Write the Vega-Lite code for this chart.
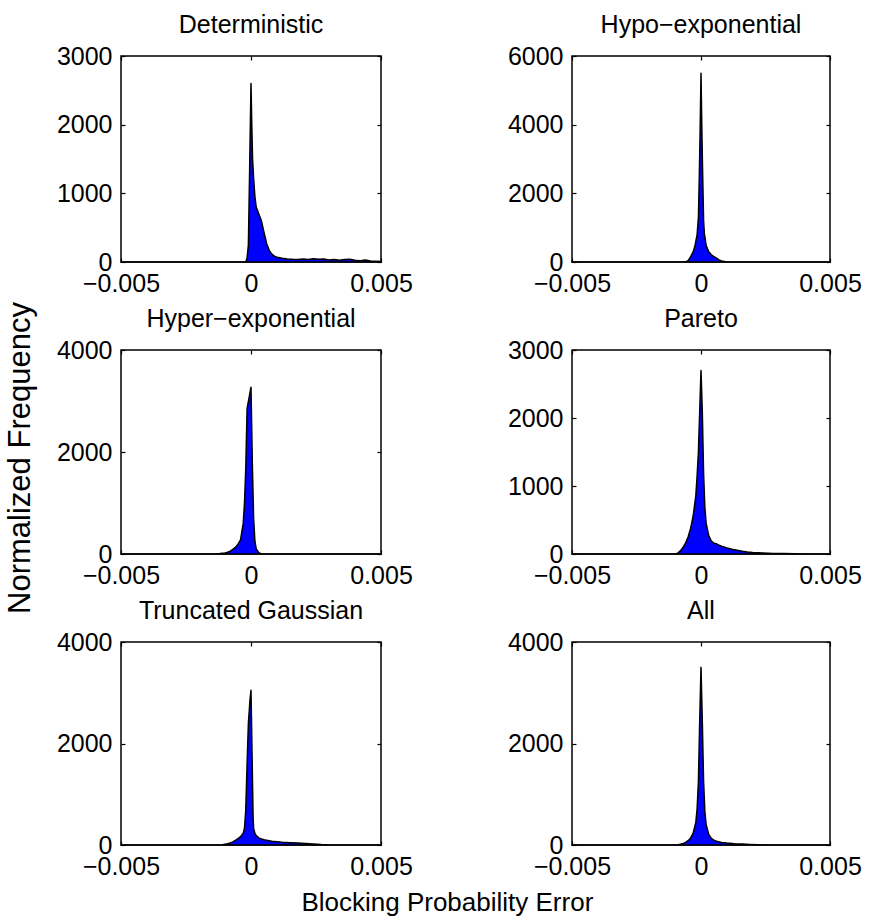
{
  "$schema": "https://vega.github.io/schema/vega-lite/v6.json",
  "background": "white",
  "padding": {"left": 4, "top": 12, "right": 8, "bottom": 6},
  "datasets": {
    "D": [
      {"x": -0.005, "y": 0}, {"x": -0.0002, "y": 0}, {"x": -0.00015, "y": 60}, {"x": -0.0001, "y": 250}, {"x": -0.00005, "y": 1400}, {"x": 0, "y": 2600},
      {"x": 0.00003, "y": 2000}, {"x": 0.00006, "y": 1500}, {"x": 0.0001, "y": 1220}, {"x": 0.00015, "y": 950}, {"x": 0.0002, "y": 800},
      {"x": 0.0003, "y": 700}, {"x": 0.0004, "y": 600}, {"x": 0.0005, "y": 430}, {"x": 0.0006, "y": 270}, {"x": 0.0007, "y": 170},
      {"x": 0.0008, "y": 115}, {"x": 0.0009, "y": 85}, {"x": 0.001, "y": 70}, {"x": 0.0012, "y": 55}, {"x": 0.0014, "y": 45},
      {"x": 0.0016, "y": 40}, {"x": 0.0018, "y": 38}, {"x": 0.002, "y": 42}, {"x": 0.0022, "y": 35}, {"x": 0.0024, "y": 48},
      {"x": 0.0026, "y": 40}, {"x": 0.0028, "y": 45}, {"x": 0.003, "y": 30}, {"x": 0.0032, "y": 38}, {"x": 0.0034, "y": 25},
      {"x": 0.0036, "y": 35}, {"x": 0.0038, "y": 40}, {"x": 0.004, "y": 25}, {"x": 0.0042, "y": 20}, {"x": 0.0044, "y": 28},
      {"x": 0.0046, "y": 15}, {"x": 0.0048, "y": 12}, {"x": 0.005, "y": 8}
    ],
    "H": [
      {"x": -0.005, "y": 0}, {"x": -0.0006, "y": 0}, {"x": -0.0005, "y": 40}, {"x": -0.0004, "y": 155}, {"x": -0.0003, "y": 300},
      {"x": -0.00024, "y": 450}, {"x": -0.00015, "y": 800}, {"x": -0.0001, "y": 1300}, {"x": -0.00006, "y": 2700}, {"x": -0.00003, "y": 4000},
      {"x": 0, "y": 5500}, {"x": 0.00003, "y": 4000}, {"x": 0.00006, "y": 2700}, {"x": 0.0001, "y": 1200}, {"x": 0.00013, "y": 830},
      {"x": 0.0002, "y": 480}, {"x": 0.0003, "y": 300}, {"x": 0.0004, "y": 210}, {"x": 0.0005, "y": 160}, {"x": 0.0006, "y": 110},
      {"x": 0.0007, "y": 60}, {"x": 0.0008, "y": 30}, {"x": 0.0009, "y": 15}, {"x": 0.001, "y": 0}, {"x": 0.005, "y": 0}
    ],
    "HE": [
      {"x": -0.005, "y": 0}, {"x": -0.0014, "y": 0}, {"x": -0.0012, "y": 8}, {"x": -0.001, "y": 20}, {"x": -0.0009, "y": 35},
      {"x": -0.0008, "y": 55}, {"x": -0.0007, "y": 90}, {"x": -0.0006, "y": 130}, {"x": -0.0005, "y": 190}, {"x": -0.0004, "y": 280},
      {"x": -0.0003, "y": 600}, {"x": -0.00025, "y": 1000}, {"x": -0.0002, "y": 1700}, {"x": -0.00015, "y": 2850}, {"x": 0, "y": 3270},
      {"x": 0.00005, "y": 1800}, {"x": 0.0001, "y": 700}, {"x": 0.00015, "y": 250}, {"x": 0.0002, "y": 100}, {"x": 0.0003, "y": 25},
      {"x": 0.0004, "y": 0}, {"x": 0.005, "y": 0}
    ],
    "P": [
      {"x": -0.005, "y": 0}, {"x": -0.001, "y": 0}, {"x": -0.0009, "y": 12}, {"x": -0.0008, "y": 45}, {"x": -0.0007, "y": 95},
      {"x": -0.0006, "y": 160}, {"x": -0.0005, "y": 250}, {"x": -0.0004, "y": 380}, {"x": -0.0003, "y": 566}, {"x": -0.0002, "y": 860},
      {"x": -0.00015, "y": 1150}, {"x": -0.0001, "y": 1500}, {"x": -0.00005, "y": 2100}, {"x": 0, "y": 2700}, {"x": 0.00005, "y": 2100},
      {"x": 0.0001, "y": 1180}, {"x": 0.00015, "y": 680}, {"x": 0.0002, "y": 450}, {"x": 0.0003, "y": 270}, {"x": 0.0004, "y": 190},
      {"x": 0.0005, "y": 160}, {"x": 0.0006, "y": 150}, {"x": 0.0007, "y": 130}, {"x": 0.0008, "y": 115}, {"x": 0.001, "y": 90},
      {"x": 0.0012, "y": 70}, {"x": 0.0014, "y": 55}, {"x": 0.0016, "y": 40}, {"x": 0.0018, "y": 30}, {"x": 0.002, "y": 23},
      {"x": 0.0024, "y": 15}, {"x": 0.0028, "y": 9}, {"x": 0.0032, "y": 6}, {"x": 0.0036, "y": 3}, {"x": 0.004, "y": 0}, {"x": 0.005, "y": 0}
    ],
    "T": [
      {"x": -0.005, "y": 0}, {"x": -0.0012, "y": 0}, {"x": -0.0011, "y": 5}, {"x": -0.001, "y": 15}, {"x": -0.0009, "y": 25},
      {"x": -0.0008, "y": 40}, {"x": -0.0007, "y": 60}, {"x": -0.0006, "y": 90}, {"x": -0.0005, "y": 125}, {"x": -0.0004, "y": 165},
      {"x": -0.0003, "y": 230}, {"x": -0.00025, "y": 330}, {"x": -0.0002, "y": 700}, {"x": -0.00015, "y": 1600}, {"x": -0.0001, "y": 2400},
      {"x": -0.00004, "y": 2850}, {"x": 0, "y": 3050}, {"x": 0.00004, "y": 1800}, {"x": 0.00008, "y": 550}, {"x": 0.0001, "y": 330},
      {"x": 0.00015, "y": 230}, {"x": 0.0002, "y": 185}, {"x": 0.0003, "y": 140}, {"x": 0.0004, "y": 120}, {"x": 0.0005, "y": 105},
      {"x": 0.0006, "y": 95}, {"x": 0.0008, "y": 75}, {"x": 0.001, "y": 65}, {"x": 0.0012, "y": 55}, {"x": 0.0015, "y": 45},
      {"x": 0.0018, "y": 38}, {"x": 0.0021, "y": 30}, {"x": 0.0024, "y": 20}, {"x": 0.0027, "y": 8}, {"x": 0.003, "y": 0}, {"x": 0.005, "y": 0}
    ],
    "A": [
      {"x": -0.005, "y": 0}, {"x": -0.001, "y": 0}, {"x": -0.0009, "y": 5}, {"x": -0.0008, "y": 15}, {"x": -0.0007, "y": 28},
      {"x": -0.0006, "y": 50}, {"x": -0.0005, "y": 85}, {"x": -0.0004, "y": 140}, {"x": -0.0003, "y": 240}, {"x": -0.0002, "y": 450},
      {"x": -0.00015, "y": 720}, {"x": -0.0001, "y": 1250}, {"x": -0.00005, "y": 2450}, {"x": 0, "y": 3500}, {"x": 0.00005, "y": 2450},
      {"x": 0.0001, "y": 1250}, {"x": 0.00015, "y": 650}, {"x": 0.0002, "y": 400}, {"x": 0.0003, "y": 210}, {"x": 0.0004, "y": 130},
      {"x": 0.0005, "y": 95}, {"x": 0.0006, "y": 75}, {"x": 0.0008, "y": 50}, {"x": 0.001, "y": 38}, {"x": 0.0013, "y": 26},
      {"x": 0.0016, "y": 18}, {"x": 0.0019, "y": 12}, {"x": 0.0022, "y": 5}, {"x": 0.0025, "y": 0}, {"x": 0.005, "y": 0}
    ]
  },
  "title": {"text": "Blocking Probability Error", "orient": "bottom", "anchor": "middle", "fontSize": 26, "fontWeight": "normal", "color": "#000", "offset": 10, "dx": 14},
  "config": {
    "font": "Liberation Sans",
    "view": {"stroke": "#000", "strokeWidth": 1.5},
    "axis": {
      "domain": false, "grid": false, "tickSize": -4, "tickColor": "#000", "tickWidth": 1.2,
      "labelFontSize": 25, "labelColor": "#000", "labelFont": "Liberation Sans", "labelPadding": 13,
      "labelOverlap": false, "labelFlush": false, "labelBound": false,
      "titleFontSize": 25, "titleFontWeight": "normal", "titleColor": "#000", "titleFont": "Liberation Sans"
    },
    "title": {"fontSize": 25, "fontWeight": "normal", "color": "#000", "offset": 6, "font": "Liberation Sans"},
    "area": {"fill": "#0000ff", "stroke": "#000", "strokeWidth": 1.5, "strokeJoin": "round", "fillOpacity": 1}
  },
  "vconcat": [
    {
      "title": {"text": "Normalized Frequency", "orient": "left", "anchor": "middle", "fontSize": 31, "offset": 19, "dx": -12},
      "spacing": 9,
      "vconcat": [
        {
          "spacing": 191, "bounds": "flush",
          "hconcat": [
            {
              "width": 260, "height": 206, "title": "Deterministic", "data": {"name": "D"},
              "layer": [
                {"mark": {"type": "area"}, "encoding": {
                  "x": {"field": "x", "type": "quantitative", "scale": {"domain": [-0.005, 0.005], "nice": false, "zero": false}, "axis": {"values": [-0.005, 0, 0.005], "format": ".3~f", "title": null}},
                  "y": {"field": "y", "type": "quantitative", "scale": {"domain": [0, 3000], "nice": false}, "axis": {"values": [0, 1000, 2000, 3000], "format": "d", "title": null}}}},
                {"mark": {"type": "point", "opacity": 0}, "encoding": {
                  "x": {"field": "x", "type": "quantitative", "axis": {"orient": "top", "values": [-0.005, 0, 0.005], "labels": false, "title": null}},
                  "y": {"field": "y", "type": "quantitative", "axis": {"orient": "right", "values": [0, 1000, 2000, 3000], "labels": false, "title": null}}}}
              ],
              "resolve": {"axis": {"x": "independent", "y": "independent"}}
            },
            {
              "width": 258, "height": 206, "title": "Hypo−exponential", "data": {"name": "H"},
              "layer": [
                {"mark": {"type": "area"}, "encoding": {
                  "x": {"field": "x", "type": "quantitative", "scale": {"domain": [-0.005, 0.005], "nice": false, "zero": false}, "axis": {"values": [-0.005, 0, 0.005], "format": ".3~f", "title": null}},
                  "y": {"field": "y", "type": "quantitative", "scale": {"domain": [0, 6000], "nice": false}, "axis": {"values": [0, 2000, 4000, 6000], "format": "d", "title": null}}}},
                {"mark": {"type": "point", "opacity": 0}, "encoding": {
                  "x": {"field": "x", "type": "quantitative", "axis": {"orient": "top", "values": [-0.005, 0, 0.005], "labels": false, "title": null}},
                  "y": {"field": "y", "type": "quantitative", "axis": {"orient": "right", "values": [0, 2000, 4000, 6000], "labels": false, "title": null}}}}
              ],
              "resolve": {"axis": {"x": "independent", "y": "independent"}}
            }
          ]
        },
        {
          "spacing": 191, "bounds": "flush",
          "hconcat": [
            {
              "width": 260, "height": 204, "title": "Hyper−exponential", "data": {"name": "HE"},
              "layer": [
                {"mark": {"type": "area"}, "encoding": {
                  "x": {"field": "x", "type": "quantitative", "scale": {"domain": [-0.005, 0.005], "nice": false, "zero": false}, "axis": {"values": [-0.005, 0, 0.005], "format": ".3~f", "title": null}},
                  "y": {"field": "y", "type": "quantitative", "scale": {"domain": [0, 4000], "nice": false}, "axis": {"values": [0, 2000, 4000], "format": "d", "title": null}}}},
                {"mark": {"type": "point", "opacity": 0}, "encoding": {
                  "x": {"field": "x", "type": "quantitative", "axis": {"orient": "top", "values": [-0.005, 0, 0.005], "labels": false, "title": null}},
                  "y": {"field": "y", "type": "quantitative", "axis": {"orient": "right", "values": [0, 2000, 4000], "labels": false, "title": null}}}}
              ],
              "resolve": {"axis": {"x": "independent", "y": "independent"}}
            },
            {
              "width": 258, "height": 204, "title": "Pareto", "data": {"name": "P"},
              "layer": [
                {"mark": {"type": "area"}, "encoding": {
                  "x": {"field": "x", "type": "quantitative", "scale": {"domain": [-0.005, 0.005], "nice": false, "zero": false}, "axis": {"values": [-0.005, 0, 0.005], "format": ".3~f", "title": null}},
                  "y": {"field": "y", "type": "quantitative", "scale": {"domain": [0, 3000], "nice": false}, "axis": {"values": [0, 1000, 2000, 3000], "format": "d", "title": null}}}},
                {"mark": {"type": "point", "opacity": 0}, "encoding": {
                  "x": {"field": "x", "type": "quantitative", "axis": {"orient": "top", "values": [-0.005, 0, 0.005], "labels": false, "title": null}},
                  "y": {"field": "y", "type": "quantitative", "axis": {"orient": "right", "values": [0, 1000, 2000, 3000], "labels": false, "title": null}}}}
              ],
              "resolve": {"axis": {"x": "independent", "y": "independent"}}
            }
          ]
        },
        {
          "spacing": 191, "bounds": "flush",
          "hconcat": [
            {
              "width": 260, "height": 203, "title": "Truncated Gaussian", "data": {"name": "T"},
              "layer": [
                {"mark": {"type": "area"}, "encoding": {
                  "x": {"field": "x", "type": "quantitative", "scale": {"domain": [-0.005, 0.005], "nice": false, "zero": false}, "axis": {"values": [-0.005, 0, 0.005], "format": ".3~f", "title": null}},
                  "y": {"field": "y", "type": "quantitative", "scale": {"domain": [0, 4000], "nice": false}, "axis": {"values": [0, 2000, 4000], "format": "d", "title": null}}}},
                {"mark": {"type": "point", "opacity": 0}, "encoding": {
                  "x": {"field": "x", "type": "quantitative", "axis": {"orient": "top", "values": [-0.005, 0, 0.005], "labels": false, "title": null}},
                  "y": {"field": "y", "type": "quantitative", "axis": {"orient": "right", "values": [0, 2000, 4000], "labels": false, "title": null}}}}
              ],
              "resolve": {"axis": {"x": "independent", "y": "independent"}}
            },
            {
              "width": 258, "height": 203, "title": "All", "data": {"name": "A"},
              "layer": [
                {"mark": {"type": "area"}, "encoding": {
                  "x": {"field": "x", "type": "quantitative", "scale": {"domain": [-0.005, 0.005], "nice": false, "zero": false}, "axis": {"values": [-0.005, 0, 0.005], "format": ".3~f", "title": null}},
                  "y": {"field": "y", "type": "quantitative", "scale": {"domain": [0, 4000], "nice": false}, "axis": {"values": [0, 2000, 4000], "format": "d", "title": null}}}},
                {"mark": {"type": "point", "opacity": 0}, "encoding": {
                  "x": {"field": "x", "type": "quantitative", "axis": {"orient": "top", "values": [-0.005, 0, 0.005], "labels": false, "title": null}},
                  "y": {"field": "y", "type": "quantitative", "axis": {"orient": "right", "values": [0, 2000, 4000], "labels": false, "title": null}}}}
              ],
              "resolve": {"axis": {"x": "independent", "y": "independent"}}
            }
          ]
        }
      ]
    }
  ]
}
